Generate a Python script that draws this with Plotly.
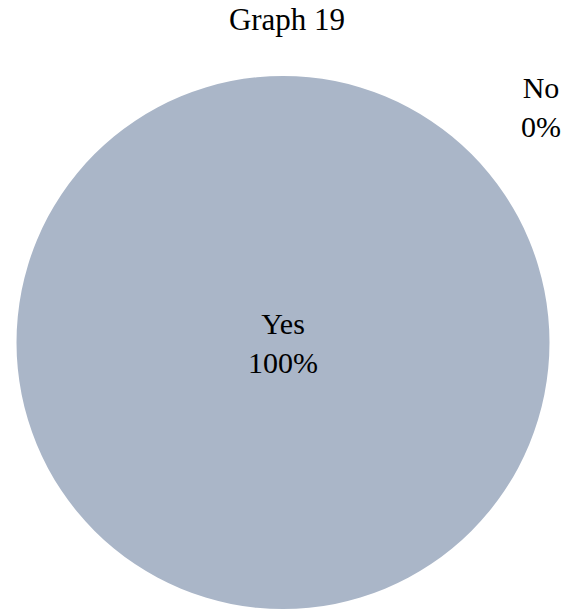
import plotly.graph_objects as go

labels = ["Yes", "No"]
values = [100, 0]
colors = ["#AAB6C8", "#C9A9A6"]
title_text = "Graph 19"

W, H = 565, 611
total = sum(values)
pcts = [f"{round(v / total * 100)}%" for v in values]

font_family = "Liberation Serif, Times New Roman, serif"

fig = go.Figure(go.Pie(
    labels=labels,
    values=values,
    marker=dict(colors=colors, line=dict(width=0)),
    sort=False,
    direction="clockwise",
    rotation=0,
    texttemplate="%{label}<br>%{percent:.0%}",
    textposition="inside",
    insidetextorientation="horizontal",
    textfont=dict(family=font_family, size=30, color="#000000"),
    showlegend=False,
    hoverinfo="label+percent",
    domain=dict(x=[16 / W, 550 / W], y=[1 - 609 / H, 1 - 76 / H]),
))

# label for zero-valued slice (plotly does not draw zero slices)
annotations = []
for lab, v, p in zip(labels, values, pcts):
    if v == 0:
        annotations.append(dict(
            text=f"{lab}<br>{p}", x=541 / W, y=1 - 107 / H,
            xref="paper", yref="paper", xanchor="center", yanchor="middle",
            showarrow=False, align="center",
            font=dict(family=font_family, size=30, color="#000000"),
        ))

fig.update_layout(
    width=W, height=H,
    margin=dict(l=0, r=0, t=0, b=0),
    paper_bgcolor="white", plot_bgcolor="white",
    title=dict(text=title_text, x=287 / W, xanchor="center", y=1 - 19 / H, yanchor="middle",
               font=dict(family=font_family, size=31, color="#000000")),
    annotations=annotations,
)

fig.write_html("out.html")
